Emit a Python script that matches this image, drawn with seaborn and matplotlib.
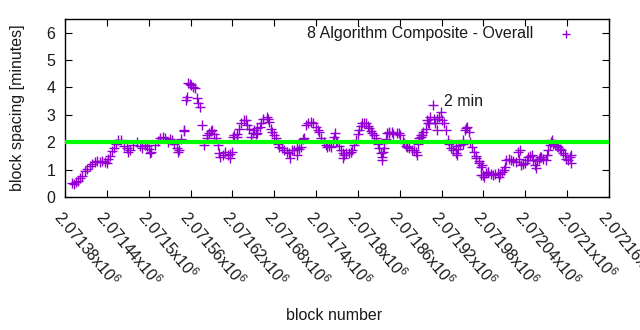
import matplotlib
matplotlib.use("Agg")
import matplotlib.pyplot as plt
import matplotlib.transforms as mtransforms
import seaborn as sns
import pandas as pd

# Average block spacing per block, 8 algorithm composite
blocks = [
    2071390, 2071393, 2071396, 2071399, 2071401, 2071404, 2071409, 2071411, 2071416, 2071419,
    2071423, 2071426, 2071430, 2071433, 2071437, 2071440, 2071441, 2071444, 2071447, 2071450,
    2071453, 2071456, 2071460, 2071464, 2071469, 2071473, 2071477, 2071483, 2071487, 2071490,
    2071494, 2071497, 2071501, 2071504, 2071509, 2071513, 2071516, 2071520, 2071523, 2071527,
    2071530, 2071534, 2071537, 2071541, 2071544, 2071547, 2071550, 2071551, 2071554, 2071555,
    2071556, 2071559, 2071561, 2071564, 2071566, 2071569, 2071570, 2071573, 2071577, 2071580,
    2071583, 2071584, 2071587, 2071590, 2071591, 2071594, 2071597, 2071600, 2071601, 2071606,
    2071609, 2071613, 2071616, 2071619, 2071621, 2071623, 2071626, 2071627, 2071630, 2071633,
    2071636, 2071640, 2071641, 2071644, 2071647, 2071649, 2071651, 2071654, 2071656, 2071659,
    2071661, 2071664, 2071669, 2071671, 2071673, 2071676, 2071677, 2071680, 2071683, 2071686,
    2071687, 2071691, 2071694, 2071699, 2071701, 2071706, 2071709, 2071713, 2071716, 2071719,
    2071721, 2071723, 2071726, 2071729, 2071733, 2071736, 2071740, 2071743, 2071744, 2071747,
    2071751, 2071754, 2071756, 2071759, 2071761, 2071764, 2071766, 2071769, 2071770, 2071773,
    2071776, 2071779, 2071780, 2071783, 2071787, 2071790, 2071791, 2071794, 2071797, 2071800,
    2071801, 2071804, 2071806, 2071809, 2071811, 2071814, 2071816, 2071819, 2071820, 2071823,
    2071826, 2071829, 2071830, 2071833, 2071834, 2071836, 2071837, 2071840, 2071841, 2071844,
    2071849, 2071851, 2071856, 2071859, 2071861, 2071864, 2071866, 2071869, 2071870, 2071873,
    2071877, 2071880, 2071883, 2071886, 2071887, 2071890, 2071891, 2071894, 2071897, 2071899,
    2071901, 2071904, 2071907, 2071909, 2071911, 2071914, 2071916, 2071919, 2071920, 2071923,
    2071926, 2071929, 2071930, 2071933, 2071937, 2071940, 2071941, 2071944, 2071947, 2071950,
    2071951, 2071954, 2071956, 2071959, 2071961, 2071963, 2071966, 2071969, 2071970, 2071973,
    2071974, 2071976, 2071977, 2071980, 2071983, 2071986, 2071987, 2071991, 2071994, 2071997,
    2072001, 2072004, 2072006, 2072009, 2072011, 2072013, 2072016, 2072020, 2072023, 2072027,
    2072030, 2072031, 2072034, 2072037, 2072040, 2072043, 2072044, 2072047, 2072049, 2072051,
    2072054, 2072057, 2072059, 2072061, 2072063, 2072066, 2072069, 2072071, 2072073, 2072076,
    2072077, 2072080, 2072083, 2072086, 2072087, 2072090, 2072091, 2072094, 2072097, 2072099,
    2072101, 2072104, 2072106,
    # scattered blocks away from the running trend
    2071470, 2071502, 2071542, 2071602, 2071617, 2071655, 2071702, 2071712, 2071767, 2071778,
    2071835, 2071845, 2071884, 2071892, 2071902, 2071913, 2071942, 2071955, 2071978, 2071981,
    2072002, 2072032, 2072055, 2072078, 2072105,
]
spacing = [
    0.51, 0.48, 0.53, 0.58, 0.69, 0.75, 0.95, 1.02, 1.15, 1.22,
    1.28, 1.33, 1.26, 1.30, 1.28, 1.25, 1.40, 1.50, 1.68, 1.80,
    1.95, 2.08, 2.08, 1.85, 1.79, 1.72, 1.90, 2.00, 1.85, 1.79,
    1.90, 1.85, 1.75, 1.64, 1.90, 2.05, 2.15, 2.20, 2.15, 2.00,
    2.10, 2.08, 1.95, 1.79, 1.70, 2.10, 2.40, 2.45, 3.54, 3.65,
    4.16, 4.12, 4.09, 4.02, 3.98, 3.60, 3.45, 3.28, 2.63, 1.90,
    2.15, 2.25, 2.33, 2.40, 2.45, 2.30, 2.15, 1.90, 1.60, 1.55,
    1.65, 1.55, 1.58, 1.64, 2.20, 2.26, 2.30, 2.19, 2.50, 2.70,
    2.80, 2.81, 2.63, 2.50, 2.19, 2.35, 2.45, 2.30, 2.33, 2.55,
    2.70, 2.85, 2.92, 2.85, 2.74, 2.50, 2.37, 2.25, 2.15, 1.95,
    1.82, 1.78, 1.72, 1.65, 1.60, 1.70, 1.72, 1.79, 1.75, 1.82,
    2.10, 2.15, 2.63, 2.70, 2.74, 2.70, 2.56, 2.45, 2.37, 2.15,
    2.00, 1.90, 1.82, 1.85, 1.82, 2.05, 2.19, 2.05, 2.00, 1.85,
    1.72, 1.60, 1.53, 1.62, 1.60, 1.65, 1.72, 1.90, 2.08, 2.30,
    2.45, 2.60, 2.70, 2.72, 2.70, 2.60, 2.52, 2.40, 2.33, 2.25,
    2.15, 1.95, 1.79, 1.60, 1.46, 1.65, 1.79, 2.10, 2.33, 2.35,
    2.37, 2.30, 2.33, 2.35, 2.26, 2.05, 1.97, 1.88, 1.82, 1.80,
    1.72, 1.70, 1.64, 1.95, 2.15, 2.19, 2.25, 2.37, 2.50, 2.81,
    2.70, 2.92, 3.36, 2.85, 2.70, 2.85, 2.92, 3.10, 2.81, 2.70,
    2.45, 2.08, 1.95, 1.79, 1.72, 1.85, 1.60, 1.75, 1.90, 1.95,
    2.08, 2.45, 2.56, 2.37, 2.00, 1.82, 1.64, 1.50, 1.42, 1.30,
    1.24, 1.10, 0.80, 0.82, 0.88, 0.90, 0.91, 0.85, 0.80, 0.85,
    0.88, 0.85, 0.91, 1.00, 1.10, 1.35, 1.40, 1.35, 1.30, 1.28,
    1.64, 1.40, 1.17, 1.20, 1.24, 1.35, 1.46, 1.50, 1.53, 1.35,
    1.17, 1.30, 1.39, 1.45, 1.46, 1.40, 1.35, 1.55, 1.72, 1.90,
    2.00, 1.92, 1.90, 1.85, 1.82, 1.75, 1.72, 1.60, 1.53, 1.40,
    1.35, 1.45, 1.53,
    1.64, 1.60, 1.64, 1.46, 1.42, 2.52, 1.42, 1.53, 2.33, 1.42,
    1.35, 2.37, 1.53, 2.26, 2.70, 2.45, 1.53, 2.52, 1.17, 0.73,
    0.73, 1.72, 1.06, 2.08, 1.24,
]

tick_blocks = [2071380 + 60 * k for k in range(14)]
tick_labels = ["2.07138", "2.07144", "2.0715", "2.07156", "2.07162", "2.07168",
               "2.07174", "2.0718", "2.07186", "2.07192", "2.07198", "2.07204",
               "2.0721", "2.07216"]
y_ticks = [0, 1, 2, 3, 4, 5, 6]
target_minutes = 2.0
series_name = "8 Algorithm Composite - Overall"

sns.set_style("white")
plt.rcParams["font.family"] = ["Liberation Sans", "DejaVu Sans"]
plt.rcParams["mathtext.fontset"] = "custom"
plt.rcParams["mathtext.rm"] = "Liberation Sans"
plt.rcParams["mathtext.it"] = "Liberation Sans"

FS = 11.5
TXT = "#1a1a1a"

df = pd.DataFrame({"block": blocks, "spacing": spacing})

fig = plt.figure(figsize=(6.4, 3.3), dpi=100)
ax = fig.add_axes([65 / 640, 1 - 197 / 330, (609 - 65) / 640, (197 - 19) / 330])

sns.scatterplot(data=df, x="block", y="spacing", marker="+", s=48,
                color="#9400D3", linewidth=1.0, ax=ax, label=series_name,
                zorder=2)
ax.axhline(target_minutes, color="#00FF00", lw=3.0, zorder=3)
ax.text(2071924, 3.5, "2 min", fontsize=FS, ha="left", va="center", color=TXT)

ax.set_xlim(tick_blocks[0], tick_blocks[-1])
ax.set_ylim(0, 6.5)
ax.set_xticks(tick_blocks)
ax.set_xticklabels([t + "x10$^{6}$" for t in tick_labels], rotation=-50,
                   ha="left", va="top", rotation_mode="anchor", fontsize=FS)
shift = mtransforms.ScaledTranslation(5 / 100, 0, fig.dpi_scale_trans)
for lbl in ax.get_xticklabels():
    lbl.set_transform(lbl.get_transform() + shift)
ax.set_yticks(y_ticks)
ax.set_yticklabels([str(v) for v in y_ticks], fontsize=FS)
ax.tick_params(direction="in", length=5, width=0.8, top=True, right=True,
               bottom=True, left=True, colors="black", labelcolor=TXT)
ax.tick_params(axis="x", pad=8)
ax.tick_params(axis="y", pad=7)
for sp in ax.spines.values():
    sp.set_visible(True)
    sp.set_color("black")
    sp.set_linewidth(1.0)

ax.set_xlabel("block number", fontsize=FS, color=TXT)
ax.set_ylabel("block spacing [minutes]", fontsize=FS, color=TXT)
ax.xaxis.set_label_coords((334 - 65) / 544, -(308 - 197) / 178)
ax.yaxis.set_label_coords(-(65 - 25) / 544, 0.5)

leg = ax.legend(loc="upper right", frameon=False, markerfirst=False,
                fontsize=FS, handletextpad=1.05, handlelength=2.0,
                borderaxespad=0.0, markerscale=0.75,
                bbox_to_anchor=((588 - 65) / 544, (197 - 20) / 178))
for t in leg.get_texts():
    t.set_color(TXT)

fig.savefig("out.png", dpi=100)
